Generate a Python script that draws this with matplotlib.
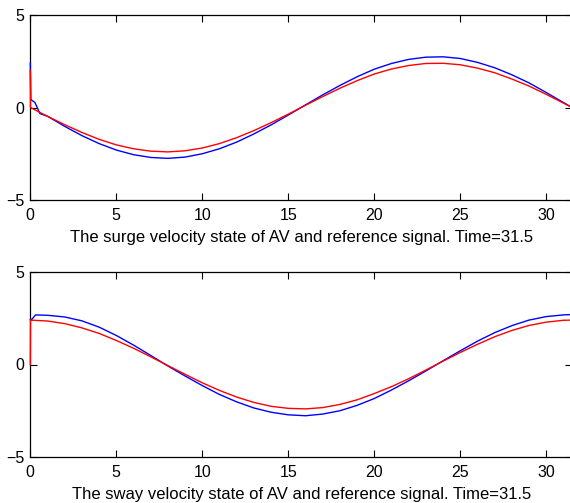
import matplotlib
matplotlib.use("Agg")
import matplotlib.pyplot as plt

plt.rcParams['font.family'] = ['Liberation Sans', 'DejaVu Sans']

# time samples (s)
t = [0, 1, 2, 3, 4, 5, 6, 7, 8, 9, 10, 11, 12, 13, 14, 15, 16, 17, 18, 19,
     20, 21, 22, 23, 24, 25, 26, 27, 28, 29, 30, 31, 31.5]

# surge velocity: reference (red) and AV state (blue)
surge_ref_t = [0, 0.01] + t[1:]
surge_ref = [2.0, 0.0, -0.48, -0.93, -1.35, -1.72, -2.02, -2.23, -2.36, -2.40,
             -2.34, -2.19, -1.95, -1.63, -1.25, -0.82, -0.36, 0.12, 0.59, 1.04,
             1.45, 1.81, 2.08, 2.27, 2.38, 2.39, 2.31, 2.13, 1.88, 1.54, 1.16,
             0.71, 0.24, 0.0]
surge_av_t = [0, 0.03, 0.27, 0.56] + t[1:]
surge_av = [2.4, 0.43, 0.27, -0.33, -0.47, -1.02, -1.52, -1.95, -2.30, -2.55,
            -2.70, -2.75, -2.68, -2.50, -2.23, -1.87, -1.43, -0.94, -0.41,
            0.14, 0.68, 1.19, 1.66, 2.07, 2.38, 2.60, 2.72, 2.74, 2.65, 2.44,
            2.15, 1.77, 1.33, 0.81, 0.27, 0.0]

# sway velocity: reference (red) and AV state (blue)
sway_ref_t = [0, 0.01] + t[1:]
sway_ref = [0.0, 2.40, 2.35, 2.21, 1.98, 1.68, 1.30, 0.88, 0.42, -0.06, -0.53,
            -0.99, -1.40, -1.76, -2.05, -2.26, -2.37, -2.40, -2.33, -2.16,
            -1.91, -1.57, -1.20, -0.77, -0.30, 0.18, 0.65, 1.09, 1.50, 1.84,
            2.11, 2.29, 2.39, 2.40]
sway_av_t = [0, 0.1, 0.3] + t[1:]
sway_av = [2.42, 2.45, 2.68, 2.66, 2.57, 2.36, 2.02, 1.57, 1.05, 0.49, -0.08,
           -0.62, -1.14, -1.62, -2.02, -2.35, -2.58, -2.72, -2.77, -2.68,
           -2.50, -2.21, -1.84, -1.38, -0.88, -0.35, 0.20, 0.74, 1.26, 1.72,
           2.10, 2.40, 2.59, 2.68, 2.70]

xticks = [0, 5, 10, 15, 20, 25, 30]
yticks = [-5, 0, 5]
labels = ["The surge velocity state of AV and reference signal. Time=31.5",
          "The sway velocity state of AV and reference signal. Time=31.5"]

fig = plt.figure(figsize=(5.70, 5.03), dpi=100)
W, H = 570, 503
left = 30.3 / W
width = (572 - 30.3) / W
ax1 = fig.add_axes([left, (H - 200) / H, width, (200 - 15) / H])
ax2 = fig.add_axes([left, (H - 457) / H, width, (457 - 272) / H])

panels = [(ax1, surge_av_t, surge_av, surge_ref_t, surge_ref, labels[0]),
          (ax2, sway_av_t, sway_av, sway_ref_t, sway_ref, labels[1])]

for ax, tb, yb, tr, yr, lab in panels:
    ax.plot(tb, yb, color='#0000ff', lw=1.0, zorder=3, clip_on=False)
    ax.plot(tr, yr, color='#ff0000', lw=1.0, zorder=3, clip_on=False)
    ax.set_xlim(0, 31.5)
    ax.set_ylim(-5, 5)
    ax.set_xticks(xticks)
    ax.set_yticks(yticks)
    ax.tick_params(direction='in', length=5, width=0.8, top=True, right=True,
                   labelsize=11.5, colors='black')
    ax.tick_params(axis='x', pad=6)
    ax.tick_params(axis='y', pad=4)
    for s in ax.spines.values():
        s.set_linewidth(0.9)
        s.set_zorder(2)
    ax.set_xlabel(lab, fontsize=12, labelpad=5)

fig.savefig("out.png", dpi=100)
